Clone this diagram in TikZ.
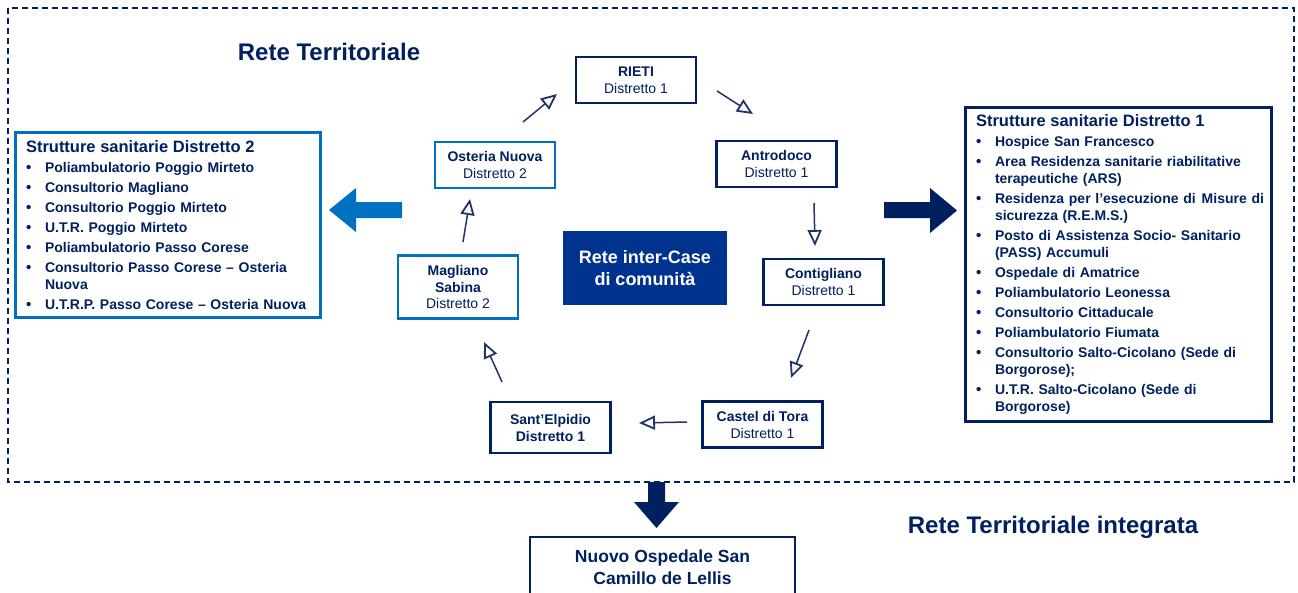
\documentclass[tikz,border=0pt]{standalone}
\usepackage{fontspec}
\setmainfont{Liberation Sans}
\usetikzlibrary{arrows.meta}
\definecolor{navy}{HTML}{002060}
\definecolor{lblue}{HTML}{0070C0}
\definecolor{hubfill}{HTML}{00338D}
\definecolor{flowcol}{HTML}{22336A}
\newcommand\lstbul{\makebox[19pt][l]{\fontsize{15}{15}\selectfont •}}
\newcommand\lstcont{\hspace*{19pt}}
\newcommand\lsthead{\fontsize{16.5}{17}\selectfont}
\begin{document}
\begin{tikzpicture}[x=1pt,y=-1pt,
  site/.style={draw=navy, line width=2.6pt, text=navy, fill=white,
    minimum width=120pt, minimum height=46pt, align=center, inner sep=2pt,
    font=\fontsize{14}{17}\selectfont},
  site2/.style={site, draw=lblue},
  listbox/.style={line width=2.8pt, text=navy, fill=white, align=left,
    inner xsep=10.5pt, inner ysep=0pt,
    font=\fontsize{14}{17}\selectfont\bfseries},
  flow/.style={draw=flowcol, line width=1.5pt,
    -{Triangle[open, length=16pt, width=14pt, line width=1.8pt]}},
  heading/.style={text=navy, font=\fontsize{24}{28}\selectfont\bfseries}]
\clip (0,0) rectangle (1298,592);
\fill[white] (0,0) rectangle (1298,592);

% territorial network frame
\draw[navy, line width=1.2pt, dash pattern=on 6pt off 4pt] (8,8) rectangle (1294,482);

\node[heading] (title) at (329,52) {Rete Territoriale};
\node[heading] (title2) at (1053,527) {Rete Territoriale integrata};

% district 2 facilities
\node[listbox, draw=lblue, text width=284pt, minimum height=185pt] (d2) at (168,225) {%
{\lsthead Strutture sanitarie Distretto 2}\\[3pt]
\lstbul Poliambulatorio Poggio Mirteto\\[3pt]
\lstbul Consultorio Magliano\\[3pt]
\lstbul Consultorio Poggio Mirteto\\[3pt]
\lstbul U.T.R. Poggio Mirteto\\[3pt]
\lstbul Poliambulatorio Passo Corese\\[3pt]
\lstbul Consultorio Passo Corese – Osteria\\
\lstcont Nuova\\[3pt]
\lstbul U.T.R.P. Passo Corese – Osteria Nuova};

% district 1 facilities
\node[listbox, draw=navy, text width=285pt, minimum height=314pt] (d1) at (1118.5,264.5) {%
{\lsthead Strutture sanitarie Distretto 1}\\[3pt]
\lstbul Hospice San Francesco\\[3pt]
\lstbul Area Residenza sanitarie riabilitative\\
\lstcont terapeutiche (ARS)\\[3pt]
\lstbul \mbox{Residenza per l’esecuzione di\hspace{6pt}Misure di}\\
\lstcont sicurezza (R.E.M.S.)\\[3pt]
\lstbul Posto di Assistenza Socio- Sanitario\\
\lstcont (PASS) Accumuli\\[3pt]
\lstbul Ospedale di Amatrice\\[3pt]
\lstbul Poliambulatorio Leonessa\\[3pt]
\lstbul Consultorio Cittaducale\\[3pt]
\lstbul Poliambulatorio Fiumata\\[3pt]
\lstbul Consultorio Salto-Cicolano (Sede di\\
\lstcont Borgorose);\\[3pt]
\lstbul U.T.R. Salto-Cicolano (Sede di\\
\lstcont Borgorose)};

% community houses ring
\node[site] (rieti) at (636,80) {{\bfseries RIETI}\\Distretto 1};
\node[site2] (osteria) at (495,165) {{\bfseries Osteria Nuova}\\Distretto 2};
\node[site] (antrodoco) at (776.5,164) {{\bfseries Antrodoco}\\Distretto 1};
\node[site] (contigliano) at (823.5,282) {{\bfseries Contigliano}\\Distretto 1};
\node[site] (castel) at (762.5,424.5) {{\bfseries Castel di Tora}\\Distretto 1};
\node[site, minimum height=51pt] (elpidio) at (550.5,427.5) {{\bfseries Sant’Elpidio}\\{\bfseries Distretto 1}};
\node[site2, minimum height=63pt, font=\fontsize{14}{16.5}\selectfont] (magliano) at (458,287) {{\bfseries Magliano}\\{\bfseries Sabina}\\Distretto 2};

\node[fill=hubfill, text=white, minimum width=164pt, minimum height=74pt, align=center,
  font=\fontsize{18}{22}\selectfont\bfseries] (hub) at (645,268) {Rete inter-Case\\di comunità};

\node[site, minimum width=265pt, minimum height=60pt, font=\fontsize{17.5}{22}\selectfont\bfseries]
  (ospedale) at (662.5,567) {Nuovo Ospedale San\\Camillo de Lellis};

% ring arrows
\coordinate (a1s) at (523,122); \coordinate (a1e) at (557,94);
\coordinate (a2s) at (717,91);  \coordinate (a2e) at (753,114);
\coordinate (a3s) at (814,203); \coordinate (a3e) at (815,246);
\coordinate (a4s) at (809,330); \coordinate (a4e) at (791,378);
\coordinate (a5s) at (687,422); \coordinate (a5e) at (639,423);
\coordinate (a6s) at (502,382); \coordinate (a6e) at (484,342);
\coordinate (a7s) at (463,242); \coordinate (a7e) at (470,199);
\draw[flow] (a1s) -- (a1e);
\draw[flow] (a2s) -- (a2e);
\draw[flow] (a3s) -- (a3e);
\draw[flow] (a4s) -- (a4e);
\draw[flow] (a5s) -- (a5e);
\draw[flow] (a6s) -- (a6e);
\draw[flow] (a7s) -- (a7e);

% block arrows
\fill[lblue] (402,202) -- (356,202) -- (356,188) -- (329,210) -- (356,232) -- (356,218) -- (402,218) -- cycle;
\fill[navy] (884,202) -- (930,202) -- (930,188) -- (957,210.5) -- (930,233) -- (930,218) -- (884,218) -- cycle;
\fill[navy] (648,482) -- (665,482) -- (665,502) -- (679,502) -- (656.5,528) -- (634,502) -- (648,502) -- cycle;
\end{tikzpicture}
\end{document}
